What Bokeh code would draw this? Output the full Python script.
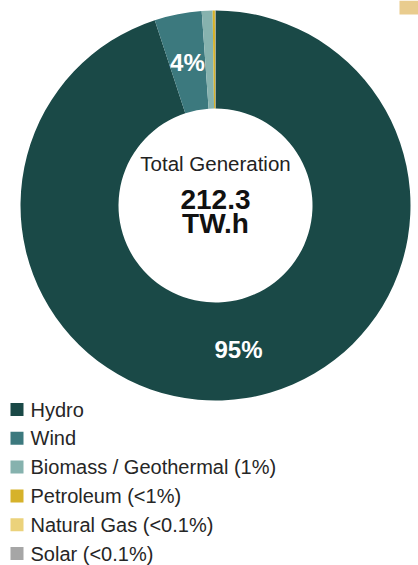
import numpy as np
from bokeh.plotting import figure
from bokeh.models import Range1d, ColumnDataSource, BoxAnnotation
from bokeh.core.properties import value
from bokeh.embed import file_html
from bokeh.resources import INLINE

# ---- data ----
sources = ["Hydro", "Wind", "Biomass / Geothermal", "Petroleum", "Natural Gas", "Solar"]
generation_twh = [201.6, 8.3, 1.9, 0.4, 0.05, 0.05]
legend_labels = ["Hydro", "Wind", "Biomass / Geothermal (1%)", "Petroleum (<1%)",
                 "Natural Gas (<0.1%)", "Solar (<0.1%)"]
colors = ["#1a4947", "#3c797e", "#86b2ae", "#d6b22a", "#ebd27b", "#a6a6a6"]
total_label = "Total Generation"
total_value = "212.3"
total_unit = "TW.h"

FONT = value("Liberation Sans")
W, H = 418, 565

p = figure(width=W, height=H, output_backend="svg", toolbar_location=None,
           x_range=Range1d(0, W), y_range=Range1d(0, H), min_border=0,
           background_fill_color="white", border_fill_color="white")
p.axis.visible = False
p.grid.visible = False
p.outline_line_color = None

# small tan tab in the top-right corner of the original image
p.add_layout(BoxAnnotation(left=399, right=W, top=H, bottom=H - 14,
                           fill_color="#e9cc8e", fill_alpha=1.0, line_color=None))

cx, cy = 215, 360
r_out, r_in = 195, 97

vals = np.array(generation_twh)
frac = vals / vals.sum()
cum = np.concatenate([[0], np.cumsum(frac)])
start = np.pi / 2 - cum[:-1] * 2 * np.pi
end = np.pi / 2 - cum[1:] * 2 * np.pi

src = ColumnDataSource(dict(start=start, end=end, color=colors))
p.annular_wedge(x=cx, y=cy, inner_radius=r_in, outer_radius=r_out,
                start_angle="start", end_angle="end", direction="clock",
                fill_color="color", line_color=None, source=src)

# percentage labels for large slices
mid = (start + end) / 2
r_lab = (r_in + r_out) / 2
lx, ly, lt = [], [], []
for i, f in enumerate(frac):
    if f > 0.02:
        lx.append(cx + r_lab * np.cos(mid[i]))
        ly.append(cy + r_lab * np.sin(mid[i]))
        lt.append(f"{round(f * 100):d}%")
p.text(x=lx, y=ly, text=lt, text_color="white", text_font=FONT,
       text_font_size="24px", text_font_style="bold",
       text_align="center", text_baseline="middle")

# centre text
p.text(x=[cx], y=[cy + 42], text=[total_label], text_color="#222222", text_font=FONT,
       text_font_size="20.5px", text_align="center", text_baseline="middle")
p.text(x=[cx, cx], y=[cy + 6, cy - 18], text=[total_value, total_unit],
       text_color="#111111", text_font=FONT, text_font_size="28px",
       text_font_style="bold", text_align="center", text_baseline="middle")

# legend
n = len(legend_labels)
row_y = 156 - np.arange(n) * 28.8
p.scatter(x=[16.5] * n, y=row_y, marker="square", size=13, fill_color=colors,
          line_color=None)
p.text(x=[30] * n, y=row_y, text=legend_labels, text_color="#262626", text_font=FONT,
       text_font_size="20px", text_align="left", text_baseline="middle")

open("out.html", "w").write(file_html(p, INLINE))
